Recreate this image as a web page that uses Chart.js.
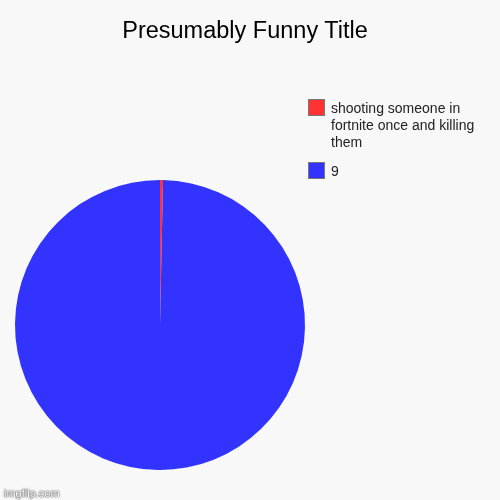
<!DOCTYPE html>
<html>
<head>
<meta charset="utf-8">
<script src="https://cdn.jsdelivr.net/npm/chart.js@4"></script>
<style>
  body { margin: 0; background: #f8f8f8; font-family: "Liberation Sans", Arial, sans-serif; }
  #wrap { position: relative; width: 500px; height: 500px; }
  #title { position: absolute; top: 17px; left: -5px; width: 500px; text-align: center; font-size: 23.5px; color: #000; }
  #legend { position: absolute; left: 308px; top: 100px; width: 185px; font-size: 14px; line-height: 17px; color: #222; }
  .item { position: relative; padding-left: 23px; margin-bottom: 12px; }
  .box { position: absolute; left: 0; top: -1px; width: 15px; height: 15px; border: 1px solid #777; }
  #mark { position: absolute; left: 4px; bottom: 1px; font-size: 11px; color: #fff; text-shadow: 0 0 2px #333, 0 0 1px #333; }
</style>
</head>
<body>
<div id="wrap">
  <canvas id="grafico" width="500" height="500"></canvas>
  <div id="title"></div>
  <div id="legend"></div>
  <div id="mark">imgflip.com</div>
</div>
<script>
const titulo = 'Presumably Funny Title';
const categorias = ['shooting someone in fortnite once and killing them', '9'];
const valores = [1, 300];
const cores = ['#ff3333', '#3333ff'];

document.getElementById('title').textContent = titulo;

const legenda = document.getElementById('legend');
categorias.forEach((cat, i) => {
    legenda.innerHTML += `
        <div class="item"><span class="box" style="background:${cores[i]}"></span>${cat}</div>
    `;
});

const ctx = document.getElementById('grafico').getContext('2d');
new Chart(ctx, {
    type: 'pie',
    data: {
        labels: categorias,
        datasets: [{
            data: valores,
            backgroundColor: cores,
            borderWidth: 0
        }]
    },
    options: {
        responsive: false,
        animation: false,
        layout: {
            padding: { left: 15, right: 195, top: 180, bottom: 30 }
        },
        plugins: {
            legend: { display: false },
            tooltip: { enabled: false }
        }
    }
});
</script>
</body>
</html>
